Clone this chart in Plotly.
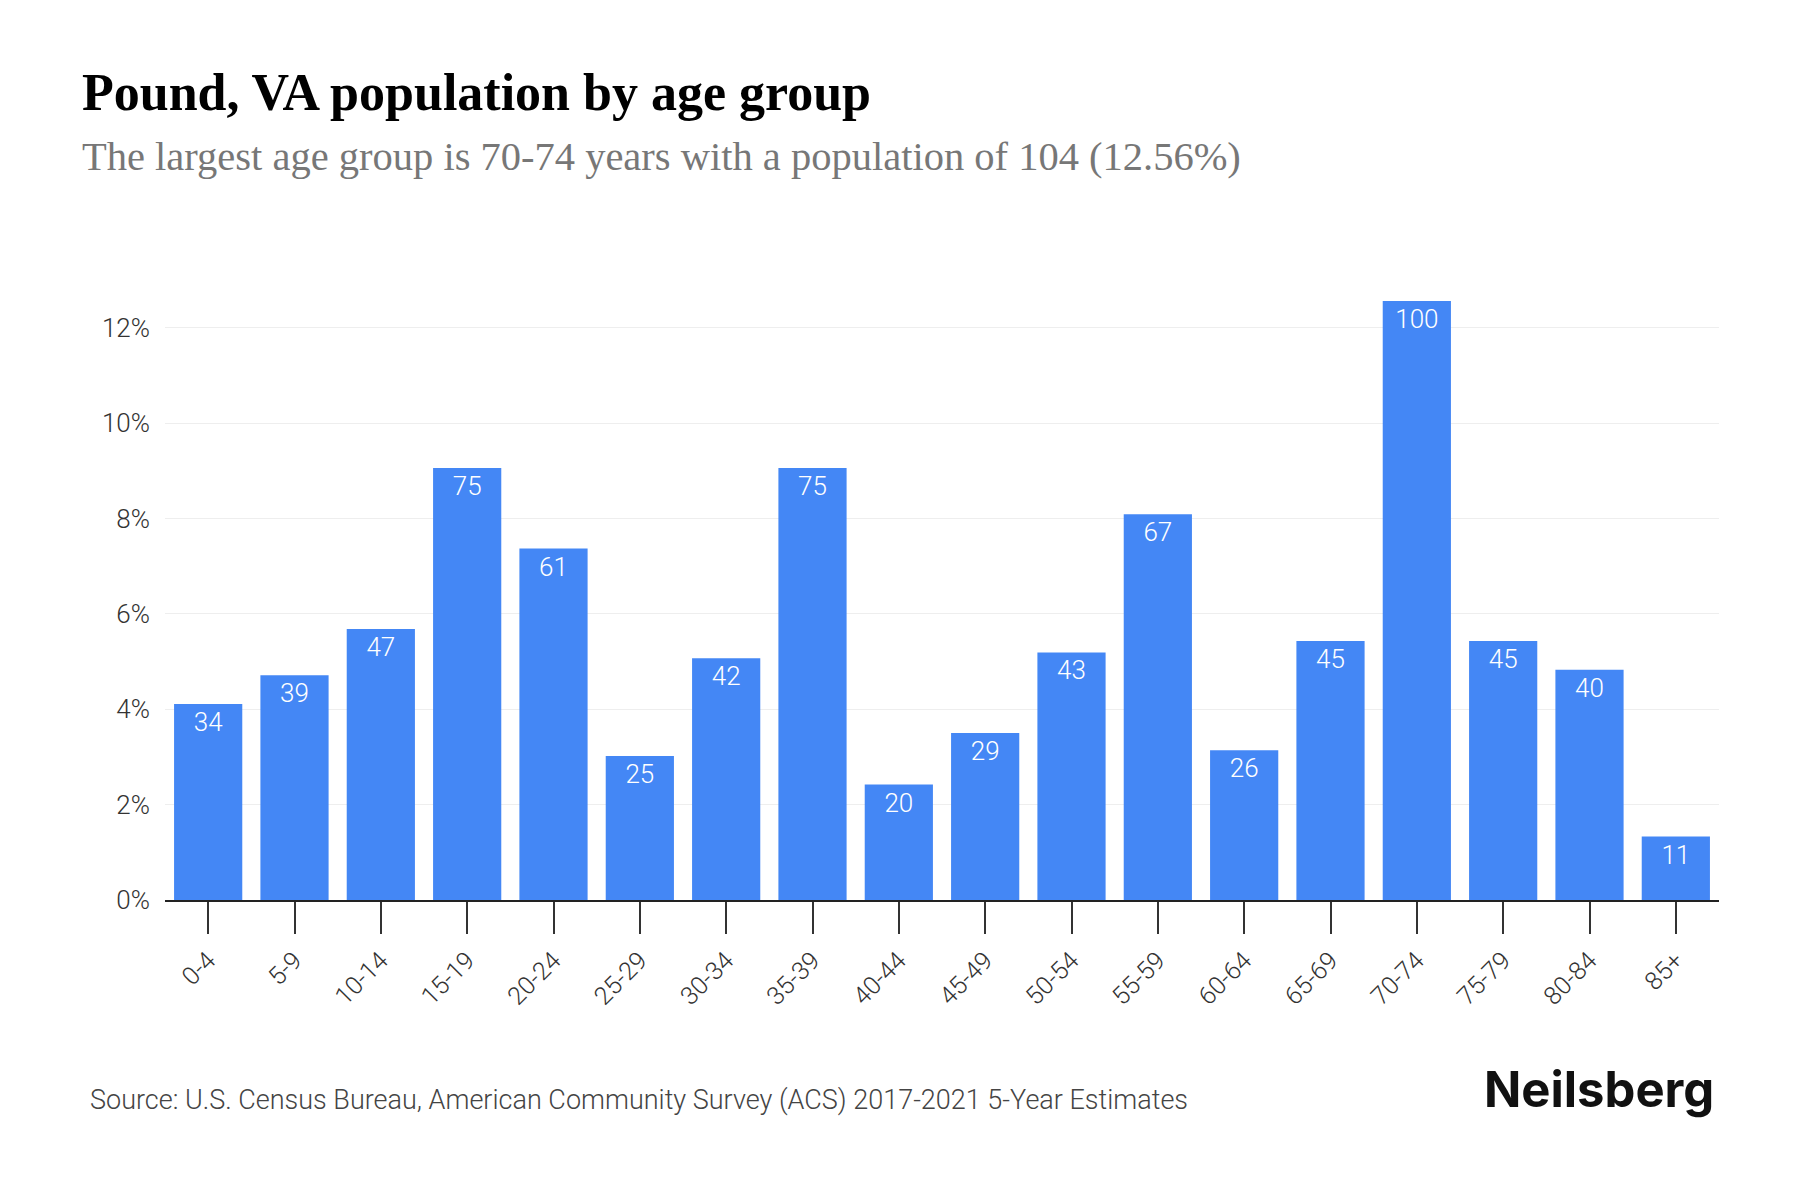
import plotly.graph_objects as go

age_groups = ["0-4", "5-9", "10-14", "15-19", "20-24", "25-29", "30-34", "35-39", "40-44",
              "45-49", "50-54", "55-59", "60-64", "65-69", "70-74", "75-79", "80-84", "85+"]
share_pct = [4.11, 4.71, 5.68, 9.06, 7.37, 3.02, 5.07, 9.06, 2.42,
             3.50, 5.19, 8.09, 3.14, 5.43, 12.56, 5.43, 4.83, 1.33]
bar_labels = ["34", "39", "47", "75", "61", "25", "42", "75", "20",
              "29", "43", "67", "26", "45", "100", "45", "40", "11"]
y_ticks = [0, 2, 4, 6, 8, 10, 12]

title = "Pound, VA population by age group"
subtitle = "The largest age group is 70-74 years with a population of 104 (12.56%)"
source = "Source: U.S. Census Bureau, American Community Survey (ACS) 2017-2021 5-Year Estimates"

W, H = 1800, 1200
L, R, T, B = 165, 81, 280, 300
PW, PH = W - L - R, H - T - B


def px(x):
    return (x - L) / PW


def py(y):
    return (H - B - y) / PH


fig = go.Figure(go.Bar(
    x=age_groups, y=share_pct, text=bar_labels,
    marker=dict(color="#4487F5", line=dict(width=0)),
    textposition="inside", insidetextanchor="end", textangle=0,
    textfont=dict(family="Roboto", size=26, color="white", weight=300),
    cliponaxis=False,
))

fig.update_layout(
    width=W, height=H,
    paper_bgcolor="white", plot_bgcolor="white",
    margin=dict(l=L, r=R, t=T, b=B),
    bargap=0.21,
    showlegend=False,
)

fig.update_xaxes(
    type="category", range=[-0.5, 17.5],
    showline=True, linecolor="#222", linewidth=1.5,
    ticks="outside", ticklen=32, tickcolor="#333", tickwidth=1.5,
    tickangle=-45, ticklabelstandoff=2,
    tickfont=dict(family="Roboto", size=25, color="#333", weight=300),
    showgrid=False,
)
fig.update_yaxes(
    range=[0, 13], tickvals=y_ticks, ticktext=[f"{v}%" for v in y_ticks],
    showgrid=True, gridcolor="#eeeeee", gridwidth=1,
    zeroline=False, showline=False,
    ticks="", ticklabelstandoff=14,
    tickfont=dict(family="Roboto", size=26, color="#333", weight=300),
)

fig.add_annotation(
    text="<b>" + title + "</b>", xref="paper", yref="paper",
    x=px(80), y=py(92), xanchor="left", yanchor="middle",
    showarrow=False, font=dict(family="Liberation Serif", size=52, color="#000"),
)
fig.add_annotation(
    text=subtitle, xref="paper", yref="paper",
    x=px(80), y=py(157), xanchor="left", yanchor="middle",
    showarrow=False, font=dict(family="Liberation Serif", size=40.5, color="#777"),
)
fig.add_annotation(
    text=source, xref="paper", yref="paper",
    x=px(88), y=py(1100), xanchor="left", yanchor="middle",
    showarrow=False, font=dict(family="Roboto", size=27, color="#444", weight=300),
)
fig.add_annotation(
    text="<b>Neilsberg</b>", xref="paper", yref="paper",
    x=px(1716), y=py(1089), xanchor="right", yanchor="middle",
    showarrow=False, font=dict(family="Inter", size=49, color="#111", weight=800),
)

fig.write_html("out.html", config={"displayModeBar": False},
               post_script="document.body.style.margin='0px';")
